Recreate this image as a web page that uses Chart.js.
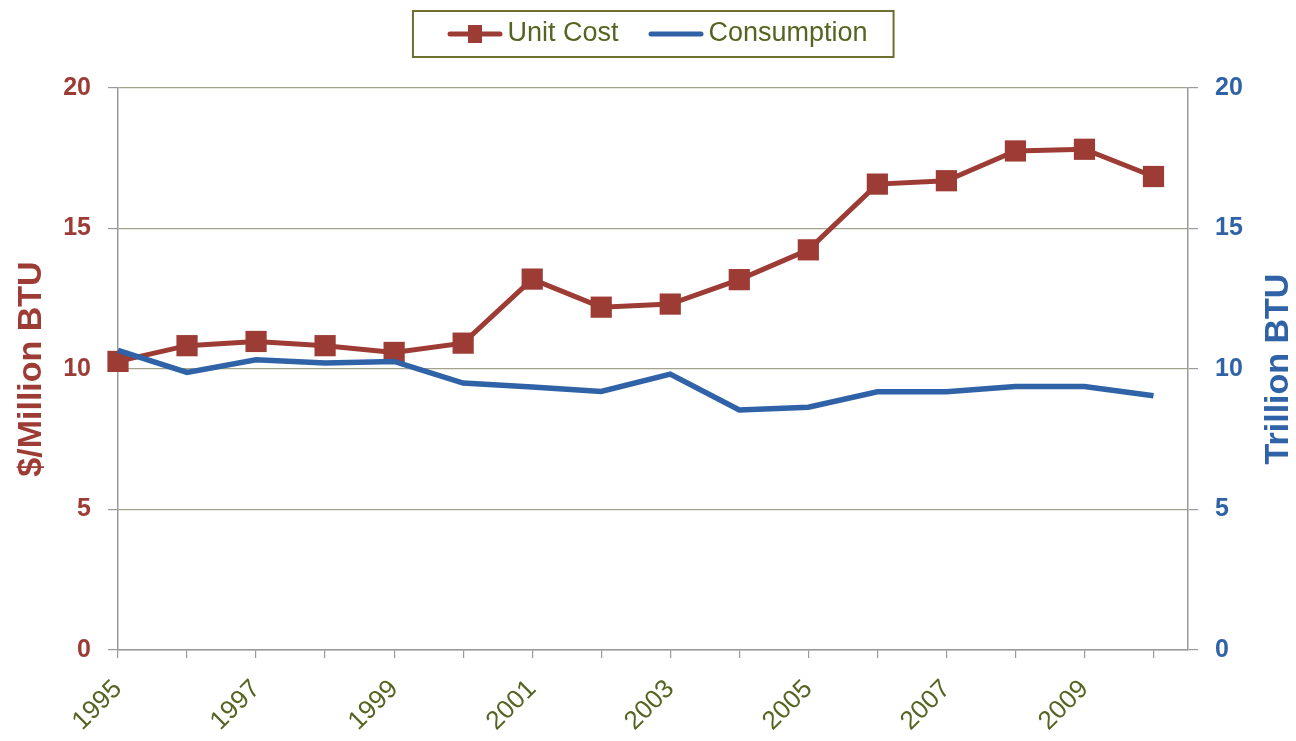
<!DOCTYPE html>
<html>
<head>
<meta charset="utf-8">
<title>Unit Cost and Consumption</title>
<script src="https://cdn.jsdelivr.net/npm/chart.js@4/dist/chart.umd.min.js"></script>
<style>
  html, body { margin: 0; padding: 0; background: #fff; }
  canvas { display: block; }
</style>
</head>
<body>
<canvas id="costChart" width="1296" height="741"></canvas>
<script>
// data ($/Million BTU and Trillion BTU by year)
var years = [1995, 1996, 1997, 1998, 1999, 2000, 2001, 2002, 2003, 2004, 2005, 2006, 2007, 2008, 2009, 2010];
var unitCost = [10.27, 10.83, 10.98, 10.83, 10.59, 10.92, 13.2, 12.2, 12.31, 13.18, 14.24, 16.58, 16.7, 17.76, 17.82, 16.85];
var consumption = [10.66, 9.88, 10.33, 10.21, 10.27, 9.5, 9.36, 9.2, 9.82, 8.54, 8.64, 9.19, 9.19, 9.38, 9.38, 9.05];
var axisTicks = [0, 5, 10, 15, 20];
var rightTitle = 'Trillion BTU';

var RED = '#9d3b35';
var BLUE = '#2f62a6';
var OLIVE = '#556421';
var GRID = '#a3a38e';
var AXIS = '#9a9a9a';
var FONT = 'Arial, "Liberation Sans", sans-serif';

function toPoints(vals) {
  return years.map(function (yr, i) { return { x: yr, y: vals[i] }; });
}

// little line (+ square) images for the legend entries
function legendMarker(color, withSquare) {
  var c = document.createElement('canvas');
  c.width = 56; c.height = 22;
  var g = c.getContext('2d');
  g.strokeStyle = color;
  g.lineWidth = 5;
  g.lineCap = 'round';
  g.beginPath(); g.moveTo(3, 11); g.lineTo(53, 11); g.stroke();
  if (withSquare) {
    g.fillStyle = color;
    g.fillRect(21, 2, 14, 18);
  }
  return c;
}
var markers = [legendMarker(RED, true), legendMarker(BLUE, false)];

// fixed legend height, olive frame round the legend, right axis title read bottom-up
var extras = {
  id: 'extras',
  beforeUpdate: function (chart) {
    var lg = chart.legend;
    if (lg && !lg._fixed) {
      var fit = lg.fit;
      lg.fit = function () { fit.call(this); this.height = 106; };
      lg._fixed = true;
    }
  },
  afterDraw: function (chart) {
    var ctx = chart.ctx;
    var hb = chart.legend.legendHitBoxes;
    if (hb && hb.length) {
      var first = hb[0], last = hb[hb.length - 1];
      var x0 = first.left - 43, x1 = last.left + last.width + 26;
      ctx.save();
      ctx.strokeStyle = '#6c6f2e';
      ctx.lineWidth = 2;
      ctx.strokeRect(x0, 11, x1 - x0, 46);
      ctx.restore();
    }
    var ca = chart.chartArea;
    ctx.save();
    ctx.translate(chart.width - 17, (ca.top + ca.bottom) / 2);
    ctx.rotate(-Math.PI / 2);
    ctx.fillStyle = BLUE;
    ctx.font = 'bold 34px ' + FONT;
    ctx.textAlign = 'center';
    ctx.textBaseline = 'middle';
    ctx.fillText(rightTitle, 0, 0);
    ctx.restore();
  }
};

function yAxis(pos, color, title, width, titlePad) {
  return {
    type: 'linear',
    position: pos,
    min: 0,
    max: 20,
    afterBuildTicks: function (s) { s.ticks = axisTicks.map(function (v) { return { value: v }; }); },
    afterFit: function (s) { s.width = width; },
    ticks: {
      color: color,
      padding: 17,
      font: { family: FONT, size: 25, weight: 'bold' }
    },
    grid: {
      color: GRID,
      lineWidth: 1.2,
      tickColor: AXIS,
      tickLength: 10,
      drawOnChartArea: pos === 'left'
    },
    border: { color: AXIS, width: 1.5 },
    title: {
      display: !!title,
      text: title,
      color: color,
      padding: { top: titlePad, bottom: 0 },
      font: { family: FONT, size: 34, weight: 'bold', lineHeight: 1 }
    }
  };
}

new Chart(document.getElementById('costChart').getContext('2d'), {
  type: 'line',
  data: {
    datasets: [{
      label: 'Unit Cost',
      data: toPoints(unitCost),
      yAxisID: 'y',
      borderColor: RED,
      backgroundColor: RED,
      borderWidth: 5,
      pointStyle: 'rect',
      pointRadius: 15,
      pointBorderWidth: 0,
      tension: 0,
      clip: false,
      order: 2
    }, {
      label: 'Consumption',
      data: toPoints(consumption),
      yAxisID: 'y1',
      borderColor: BLUE,
      backgroundColor: BLUE,
      borderWidth: 5.5,
      pointRadius: 0,
      tension: 0,
      clip: false,
      order: 1
    }]
  },
  options: {
    responsive: false,
    animation: false,
    devicePixelRatio: 1,
    layout: { padding: { top: -18, left: 0, right: -27.5, bottom: 0 } },
    plugins: {
      tooltip: { enabled: false },
      legend: {
        position: 'top',
        labels: {
          usePointStyle: true,
          pointStyleWidth: 38,
          padding: 38.5,
          color: OLIVE,
          font: { family: FONT, size: 27 },
          generateLabels: function (chart) {
            return chart.data.datasets.map(function (ds, i) {
              return {
                text: ds.label,
                pointStyle: markers[i],
                fillStyle: ds.borderColor,
                strokeStyle: ds.borderColor,
                lineWidth: 0,
                fontColor: OLIVE,
                hidden: false,
                datasetIndex: i
              };
            });
          }
        }
      }
    },
    scales: {
      x: {
        type: 'linear',
        min: 1995,
        max: 2010.5,
        afterFit: function (s) { s.height = 91; },
        ticks: {
          stepSize: 1,
          autoSkip: false,
          includeBounds: false,
          minRotation: 45,
          maxRotation: 45,
          padding: 16,
          color: OLIVE,
          font: { family: FONT, size: 26 },
          callback: function (v) { return v % 2 === 1 ? String(v) : ''; }
        },
        grid: {
          drawOnChartArea: false,
          color: AXIS,
          tickLength: 8,
          lineWidth: 1.2
        },
        border: { color: AXIS, width: 1.5 }
      },
      y: yAxis('left', RED, '$/Million BTU', 118, 15),
      y1: yAxis('right', BLUE, '', 135.5, 0)
    }
  },
  plugins: [extras]
});
</script>
</body>
</html>
